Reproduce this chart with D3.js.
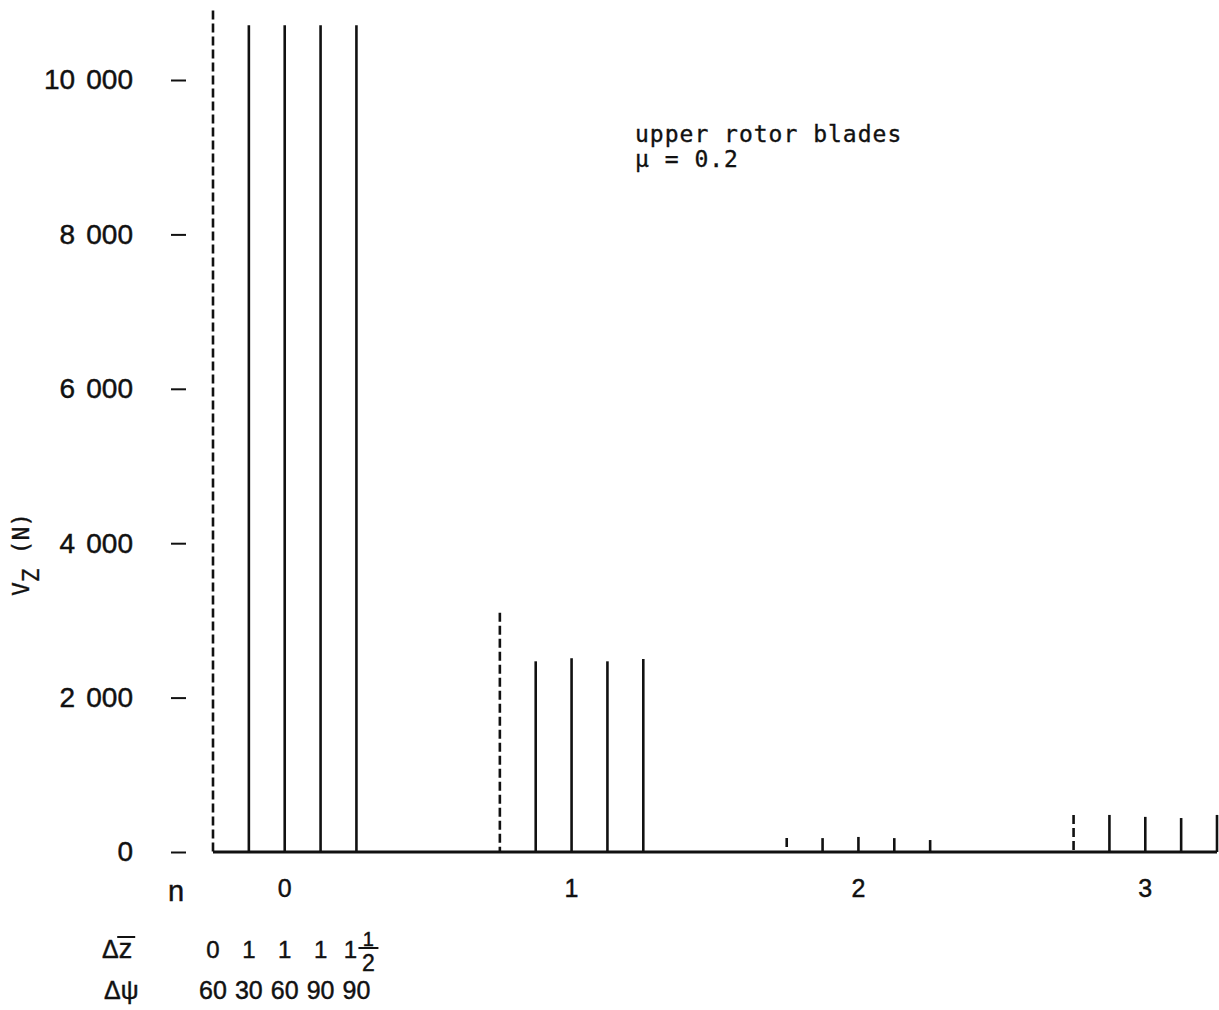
<!DOCTYPE html>
<html>
<head>
<meta charset="utf-8">
<script src="https://cdn.jsdelivr.net/npm/d3@7"></script>
<style>
  body { margin: 0; background: #fff; }
  svg text { fill: #111; }
  .sans { font-family: "Liberation Sans", Arial, sans-serif; stroke: #111; stroke-width: 0.45px; }
  .mono { font-family: "DejaVu Sans Mono", "Liberation Mono", monospace; stroke: #111; stroke-width: 0.35px; }
</style>
</head>
<body>
<svg id="chart" width="1219" height="1010"></svg>
<script>
// Harmonic orders n on the x axis
const harmonics = [0, 1, 2, 3];

// Blade configurations (the first one, drawn dashed, is the reference)
const dzLabels = ["0", "1", "1", "1", "1 1/2"];
const dpsiLabels = ["60", "30", "60", "90", "90"];
const configOffsets = [-0.25, -0.125, 0, 0.125, 0.25];

// Vz (N) per harmonic, one value per configuration
const vzN0 = [10900, 10710, 10710, 10710, 10710];
const vzN1 = [3100, 2470, 2510, 2470, 2500];
const vzN2 = [180, 180, 195, 180, 155];
const vzN3 = [480, 480, 455, 440, 480];
const vzByHarmonic = [vzN0, vzN1, vzN2, vzN3];

const yTicks = [0, 2000, 4000, 6000, 8000, 10000];

const svg = d3.select('#chart');

const x = d3.scaleLinear().domain([-0.25, 3.25]).range([213, 1217]);
const y = d3.scaleLinear().domain([0, 10000]).range([852, 80]);

// y ticks: short dashes standing off to the left, no axis line
const yAxis = d3.axisLeft(y)
  .tickValues(yTicks)
  .tickSize(15)
  .tickPadding(38)
  .tickFormat(d => d3.format(',')(d).replace(',', '\u2009\u2009'));

const gy = svg.append('g')
  .attr('transform', 'translate(186,0)')
  .call(yAxis);
gy.select('.domain').remove();
gy.selectAll('.tick line').attr('stroke', '#111').attr('stroke-width', 2);
gy.selectAll('.tick text')
  .attr('class', 'sans')
  .attr('fill', '#111')
  .style('font-size', '28px');

// y label V_Z (N), rotated
const ylab = svg.append('text')
  .attr('class', 'mono')
  .attr('transform', 'translate(29,596) rotate(-90)')
  .style('font-size', '23px');
ylab.append('tspan').text('V');
ylab.append('tspan').attr('dy', 10).text('Z');
ylab.append('tspan').attr('dy', -10).text(' (N)');

// baseline
svg.append('line')
  .attr('x1', x(-0.25)).attr('x2', x(3.25))
  .attr('y1', y(0)).attr('y2', y(0))
  .attr('stroke', '#111')
  .attr('stroke-width', 3);

// bars
const barData = [];
harmonics.forEach((n, i) => {
  vzByHarmonic[i].forEach((v, j) => {
    barData.push({ n: n, cfg: j, v: v });
  });
});

svg.append('g').selectAll('line')
  .data(barData)
  .join('line')
  .attr('x1', d => x(d.n + configOffsets[d.cfg]))
  .attr('x2', d => x(d.n + configOffsets[d.cfg]))
  .attr('y1', d => y(d.v))
  .attr('y2', y(0))
  .attr('stroke', '#111')
  .attr('stroke-width', 2.6)
  .attr('stroke-dasharray', d => d.cfg === 0 ? '9,4' : null);

// n labels
svg.append('text')
  .attr('class', 'sans')
  .attr('x', 176).attr('y', 901)
  .attr('text-anchor', 'middle')
  .style('font-size', '29px')
  .text('n');

svg.append('g').selectAll('text')
  .data(harmonics)
  .join('text')
  .attr('class', 'sans')
  .attr('x', d => x(d))
  .attr('y', 897)
  .attr('text-anchor', 'middle')
  .style('font-size', '25px')
  .text(d => d);

// configuration rows: delta z-bar and delta psi
const dzRow = svg.append('g').attr('class', 'sans').style('font-size', '24px');
const dzTitle = dzRow.append('text').attr('x', 102).attr('y', 958);
dzTitle.append('tspan').style('font-size', '25px').text('\u0394');
dzTitle.append('tspan').style('font-size', '27px').text('z');
const zb = dzTitle.node().getBBox();
svg.append('line')
  .attr('x1', zb.x + zb.width - 15).attr('x2', zb.x + zb.width + 3)
  .attr('y1', 937).attr('y2', 937)
  .attr('stroke', '#111').attr('stroke-width', 2);

dzLabels.forEach((lab, j) => {
  const px = x(0 + configOffsets[j]);
  if (lab.indexOf('/') > -1) {
    const parts = lab.split(' ');
    const frac = parts[1].split('/');
    dzRow.append('text').attr('x', px - 6).attr('y', 958)
      .attr('text-anchor', 'middle').text(parts[0]);
    dzRow.append('text').attr('x', px + 12).attr('y', 946)
      .attr('text-anchor', 'middle').style('font-size', '20px').text(frac[0]);
    dzRow.append('line')
      .attr('x1', px + 2).attr('x2', px + 22)
      .attr('y1', 948).attr('y2', 948)
      .attr('stroke', '#111').attr('stroke-width', 2);
    dzRow.append('text').attr('x', px + 12).attr('y', 971)
      .attr('text-anchor', 'middle').style('font-size', '23px').text(frac[1]);
  } else {
    dzRow.append('text').attr('x', px).attr('y', 958)
      .attr('text-anchor', 'middle').text(lab);
  }
});

const psiRow = svg.append('g').attr('class', 'sans').style('font-size', '25px');
psiRow.append('text').attr('x', 104).attr('y', 999)
  .style('font-size', '25px')
  .text('\u0394\u03c8');
psiRow.selectAll('text.v')
  .data(dpsiLabels)
  .join('text')
  .attr('class', 'v sans')
  .attr('x', (d, j) => x(0 + configOffsets[j]))
  .attr('y', 999)
  .attr('text-anchor', 'middle')
  .text(d => d);

// annotation
const note = svg.append('g')
  .attr('class', 'mono')
  .style('font-size', '23px')
  .style('letter-spacing', '1px');
note.append('text').attr('x', 635).attr('y', 142).text('upper rotor blades');
note.append('text').attr('x', 635).attr('y', 167).text('\u03bc = 0.2');
</script>
</body>
</html>
